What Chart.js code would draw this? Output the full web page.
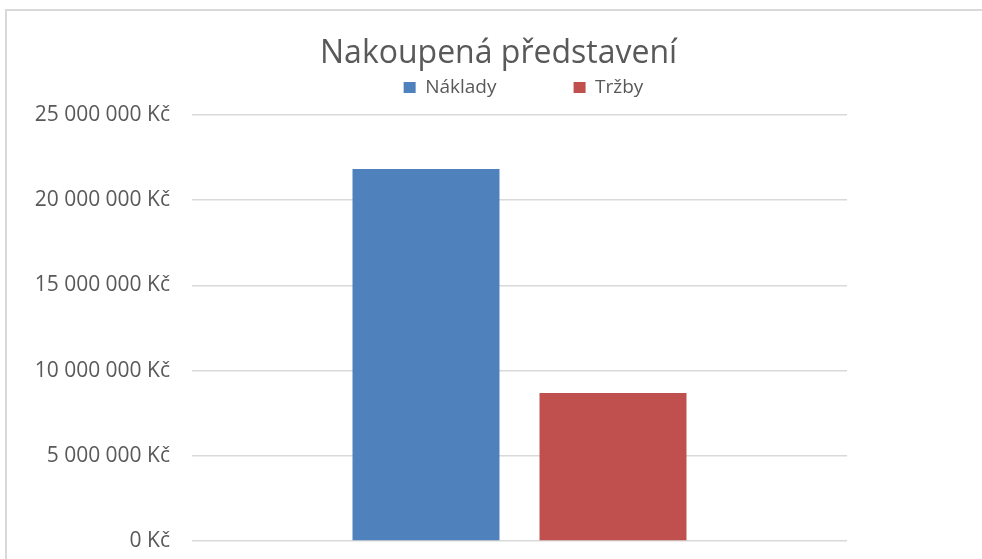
<!DOCTYPE html>
<html><head><meta charset="utf-8">
<script src="https://cdn.jsdelivr.net/npm/chart.js@4/dist/chart.umd.min.js"></script>
<style>
html,body{margin:0;padding:0;background:#fff;overflow:hidden;width:982px;height:559px;}
#frame{position:absolute;left:5px;top:9px;width:1200px;height:800px;border-left:2px solid #d9d9d9;border-top:2px solid #d9d9d9;box-sizing:border-box;}
#c{position:absolute;left:0;top:0;}
</style></head><body>
<div id="frame"></div>
<canvas id="c" width="1047" height="559"></canvas>
<script>
const chartTitle = 'Nakoupená představení';
const categories = [''];
const seriesNames = ['Náklady', 'Tržby'];
const nakladyValues = [21830000];
const trzbyValues = [8690000];
const seriesColors = ['#4F81BD', '#C0504D'];
const yTickValues = [0, 5000000, 10000000, 15000000, 20000000, 25000000];
const yTickLabels = ['0 Kč', '5 000 000 Kč', '10 000 000 Kč', '15 000 000 Kč', '20 000 000 Kč', '25 000 000 Kč'];

const NB = '\u00A0';
const FONT = "'Open Sans', 'Noto Sans', sans-serif";
const textColor = '#595959';

new Chart(document.getElementById('c'), {
  type: 'bar',
  data: {
    labels: categories,
    datasets: [
      { label: seriesNames[0], data: nakladyValues, backgroundColor: seriesColors[0], borderWidth: 0 },
      { label: seriesNames[1], data: trzbyValues, backgroundColor: seriesColors[1], borderWidth: 0 }
    ]
  },
  options: {
    responsive: false,
    animation: false,
    devicePixelRatio: 1,
    categoryPercentage: 0.571,
    barPercentage: 0.786,
    layout: { padding: { left: 0, right: 0, top: 0, bottom: 18 } },
    plugins: {
      tooltip: { enabled: false },
      title: {
        display: true,
        text: chartTitle + NB.repeat(6),
        color: textColor,
        font: { family: FONT, size: 32, weight: 'normal', lineHeight: 1 },
        padding: { top: 37.5, bottom: 0.5 }
      },
      legend: {
        display: true,
        position: 'top',
        labels: {
          color: textColor,
          font: { family: FONT, size: 19 },
          boxWidth: 12,
          boxHeight: 11,
          padding: 8,
          generateLabels: (chart) => {
            const items = Chart.defaults.plugins.legend.labels.generateLabels(chart);
            items.forEach((it, i) => { if (i === 0) it.text = it.text + NB.repeat(14); it.lineWidth = 0; });
            return items;
          }
        }
      }
    },
    scales: {
      x: {
        position: 'top',
        display: true,
        grid: { display: false },
        border: { display: false },
        ticks: { display: false },
        afterFit: (s) => { s.height = 8; }
      },
      y: {
        position: 'left',
        min: 0,
        max: 25000000,
        afterBuildTicks: (s) => { s.ticks = yTickValues.map(v => ({ value: v })); },
        grid: { color: '#d9d9d9', lineWidth: 1.5, drawTicks: true, tickLength: 22, tickColor: 'rgba(0,0,0,0)' },
        border: { display: false },
        ticks: {
          padding: 0,
          color: textColor,
          font: { family: FONT, size: 21 },
          callback: (v) => yTickLabels[yTickValues.indexOf(v)]
        },
        afterFit: (s) => { s.width = 192; }
      },
      y2: {
        position: 'right',
        display: true,
        grid: { display: false },
        border: { display: false },
        ticks: { display: false },
        afterFit: (s) => { s.width = 200; }
      }
    }
  }
});
</script>
</body></html>
